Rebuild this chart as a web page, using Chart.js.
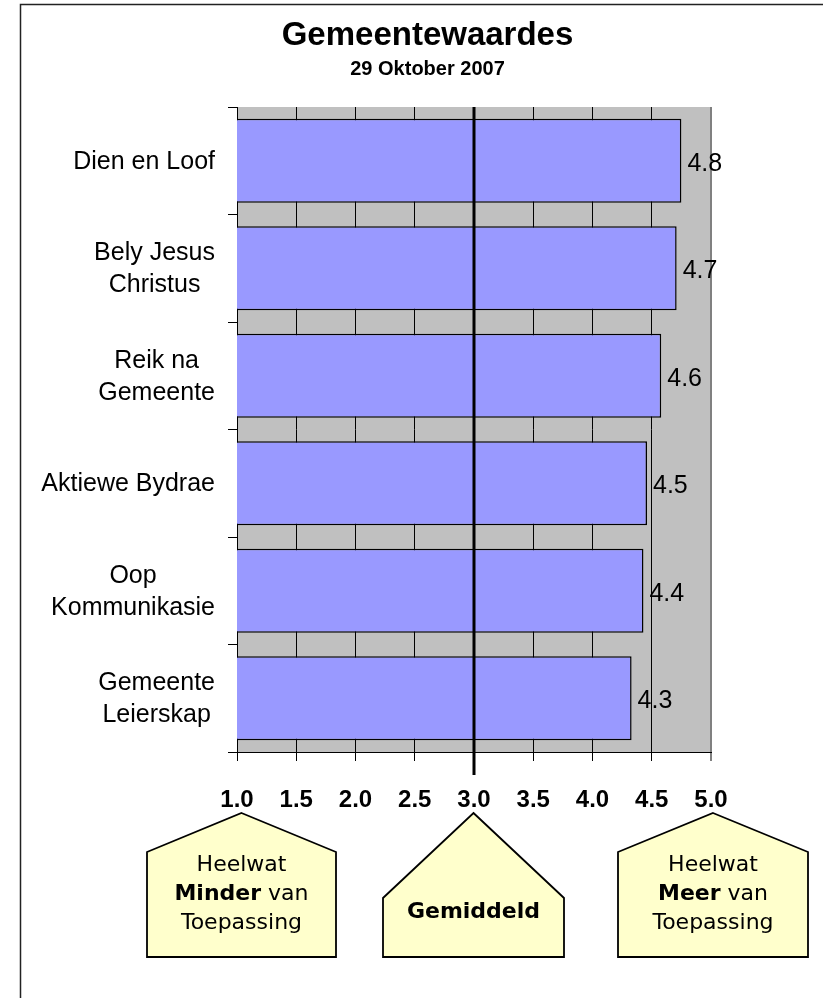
<!DOCTYPE html>
<html>
<head>
<meta charset="utf-8">
<script src="https://cdn.jsdelivr.net/npm/chart.js@4"></script>
<style>
html, body { margin: 0; padding: 0; background: #ffffff; }
#wrap { width: 823px; height: 998px; position: relative; }
</style>
</head>
<body>
<div id="wrap"><canvas id="c" width="823" height="998"></canvas></div>
<script>
// ---- data ----
const categories = [
  ['Dien en Loof'],
  ['Bely Jesus', 'Christus'],
  ['Reik na', 'Gemeente'],
  ['Aktiewe Bydrae'],
  ['Oop', 'Kommunikasie'],
  ['Gemeente', 'Leierskap']
];
const scores = [4.75, 4.71, 4.58, 4.46, 4.43, 4.33];
const scaleMin = 1.0;
const scaleMax = 5.0;
const scaleStep = 0.5;
const averageValue = 3.0;
const chartTitle = 'Gemeentewaardes';
const chartSubtitle = '29 Oktober 2007';
const calloutAnchors = [1.0, 3.0, 5.0];
const calloutTexts = [
  [[['Heelwat', false]], [['Minder', true], [' van', false]], [['Toepassing', false]]],
  [[['Gemiddeld', true]]],
  [[['Heelwat', false]], [['Meer', true], [' van', false]], [['Toepassing', false]]]
];

// ---- styling ----
const SANS = '"Liberation Sans", Arial, sans-serif';
const VERD = '"DejaVu Sans", Verdana, sans-serif';
const calloutShapes = [
  { dx: 4.5, hw: 94.5, shoulder: 852 },
  { dx: -0.5, hw: 90.5, shoulder: 898 },
  { dx: 2, hw: 95, shoulder: 852 }
];

const decorPlugin = {
  id: 'decor',
  beforeDraw(chart) {
    const { ctx, chartArea: a } = chart;
    ctx.save();
    ctx.fillStyle = '#ffffff';
    ctx.fillRect(0, 0, chart.width, chart.height);
    ctx.fillStyle = '#C0C0C0';
    ctx.fillRect(a.left, a.top, a.right - a.left, a.bottom - a.top);
    // outer frame
    ctx.strokeStyle = '#222222';
    ctx.lineWidth = 1.5;
    ctx.strokeRect(20.5, 4.5, 1000, 1200);
    ctx.restore();
  },
  afterDatasetsDraw(chart) {
    const { ctx, chartArea: a } = chart;
    const xs = chart.scales.x;
    ctx.save();
    // average line
    const ax = xs.getPixelForValue(averageValue);
    ctx.strokeStyle = '#000';
    ctx.lineWidth = 3;
    ctx.beginPath();
    ctx.moveTo(ax, a.top);
    ctx.lineTo(ax, a.bottom + 23);
    ctx.stroke();
    // value labels
    const meta = chart.getDatasetMeta(0);
    ctx.font = '25px ' + SANS;
    ctx.fillStyle = '#000';
    ctx.textAlign = 'left';
    ctx.textBaseline = 'middle';
    meta.data.forEach((bar, i) => {
      ctx.fillText(scores[i].toFixed(1), bar.x + 6, bar.y + 3);
    });
    ctx.restore();
  },
  afterDraw(chart) {
    const { ctx, chartArea: a } = chart;
    const ys = chart.scales.y;
    const xs = chart.scales.x;
    ctx.save();
    // category labels: block right-aligned, lines centred
    ctx.font = '25px ' + SANS;
    ctx.fillStyle = '#000';
    ctx.textAlign = 'center';
    ctx.textBaseline = 'middle';
    const labelRight = a.left - 22;
    const lh = 32;
    categories.forEach((lines, i) => {
      const y = ys.getPixelForValue(i) + 1;
      const w = Math.max(...lines.map(l => ctx.measureText(l).width));
      const cx = labelRight - w / 2;
      lines.forEach((l, j) => {
        ctx.fillText(l, cx, y + (j - (lines.length - 1) / 2) * lh);
      });
    });
    // callouts
    const peakY = 813, bottomY = 957;
    calloutAnchors.forEach((v, k) => {
      const s = calloutShapes[k];
      const cx = xs.getPixelForValue(v) + s.dx;
      ctx.beginPath();
      ctx.moveTo(cx, peakY);
      ctx.lineTo(cx + s.hw, s.shoulder);
      ctx.lineTo(cx + s.hw, bottomY);
      ctx.lineTo(cx - s.hw, bottomY);
      ctx.lineTo(cx - s.hw, s.shoulder);
      ctx.closePath();
      ctx.fillStyle = '#FFFFCC';
      ctx.fill();
      ctx.strokeStyle = '#000';
      ctx.lineWidth = 1.8;
      ctx.lineJoin = 'miter';
      ctx.stroke();
      const lines = calloutTexts[k];
      const step = 29;
      const startY = lines.length === 1 ? 912 : 865;
      ctx.textAlign = 'left';
      ctx.textBaseline = 'middle';
      ctx.fillStyle = '#000';
      lines.forEach((segs, j) => {
        let total = 0;
        segs.forEach(([t, b]) => {
          ctx.font = (b ? 'bold ' : '') + '22px ' + VERD;
          total += ctx.measureText(t).width;
        });
        let x = cx - total / 2;
        segs.forEach(([t, b]) => {
          ctx.font = (b ? 'bold ' : '') + '22px ' + VERD;
          ctx.fillText(t, x, startY + j * step);
          x += ctx.measureText(t).width;
        });
      });
    });
    ctx.restore();
  }
};

new Chart(document.getElementById('c'), {
  type: 'bar',
  data: {
    labels: categories,
    datasets: [{
      data: scores,
      backgroundColor: '#9999FF',
      borderColor: '#000000',
      borderWidth: 1.5,
      borderSkipped: false,
      barPercentage: 0.78,
      categoryPercentage: 1.0
    }]
  },
  options: {
    indexAxis: 'y',
    responsive: false,
    animation: false,
    layout: { padding: { left: 32, right: 0, top: 0, bottom: 0 } },
    plugins: {
      legend: { display: false },
      tooltip: { enabled: false },
      title: {
        display: true,
        text: chartTitle,
        color: '#000',
        font: { family: SANS, size: 33, weight: 'bold' },
        padding: { top: 16, bottom: 0 }
      },
      subtitle: {
        display: true,
        text: chartSubtitle,
        color: '#000',
        font: { family: SANS, size: 20, weight: 'bold' },
        padding: { top: 1.4, bottom: 26 }
      }
    },
    scales: {
      x: {
        type: 'linear',
        position: 'bottom',
        min: scaleMin,
        max: scaleMax,
        ticks: {
          stepSize: scaleStep,
          autoSkip: false,
          maxRotation: 0,
          padding: 25,
          color: '#000',
          font: { family: SANS, size: 24, weight: 'bold' },
          callback: v => Number(v).toFixed(1)
        },
        grid: {
          color: c => (c.tick && c.tick.value === scaleMax) ? '#808080' : '#000',
          lineWidth: c => (c.tick && c.tick.value === scaleMax) ? 2 : 1,
          tickLength: 9,
          drawTicks: true
        },
        border: { display: true, color: '#000', width: 1 },
        afterFit(s) { s.height = 246; }
      },
      y: {
        type: 'category',
        position: 'left',
        offset: true,
        ticks: { display: false },
        grid: { offset: true, drawOnChartArea: false, drawTicks: true, tickLength: 9, color: '#000' },
        border: { display: true, color: '#000', width: 1 },
        afterFit(s) { s.width = 205; }
      },
      yR: {
        type: 'category',
        position: 'right',
        display: true,
        ticks: { display: false },
        grid: { display: false },
        border: { display: false },
        afterFit(s) { s.width = 112; }
      }
    }
  },
  plugins: [decorPlugin]
});
</script>
</body>
</html>
